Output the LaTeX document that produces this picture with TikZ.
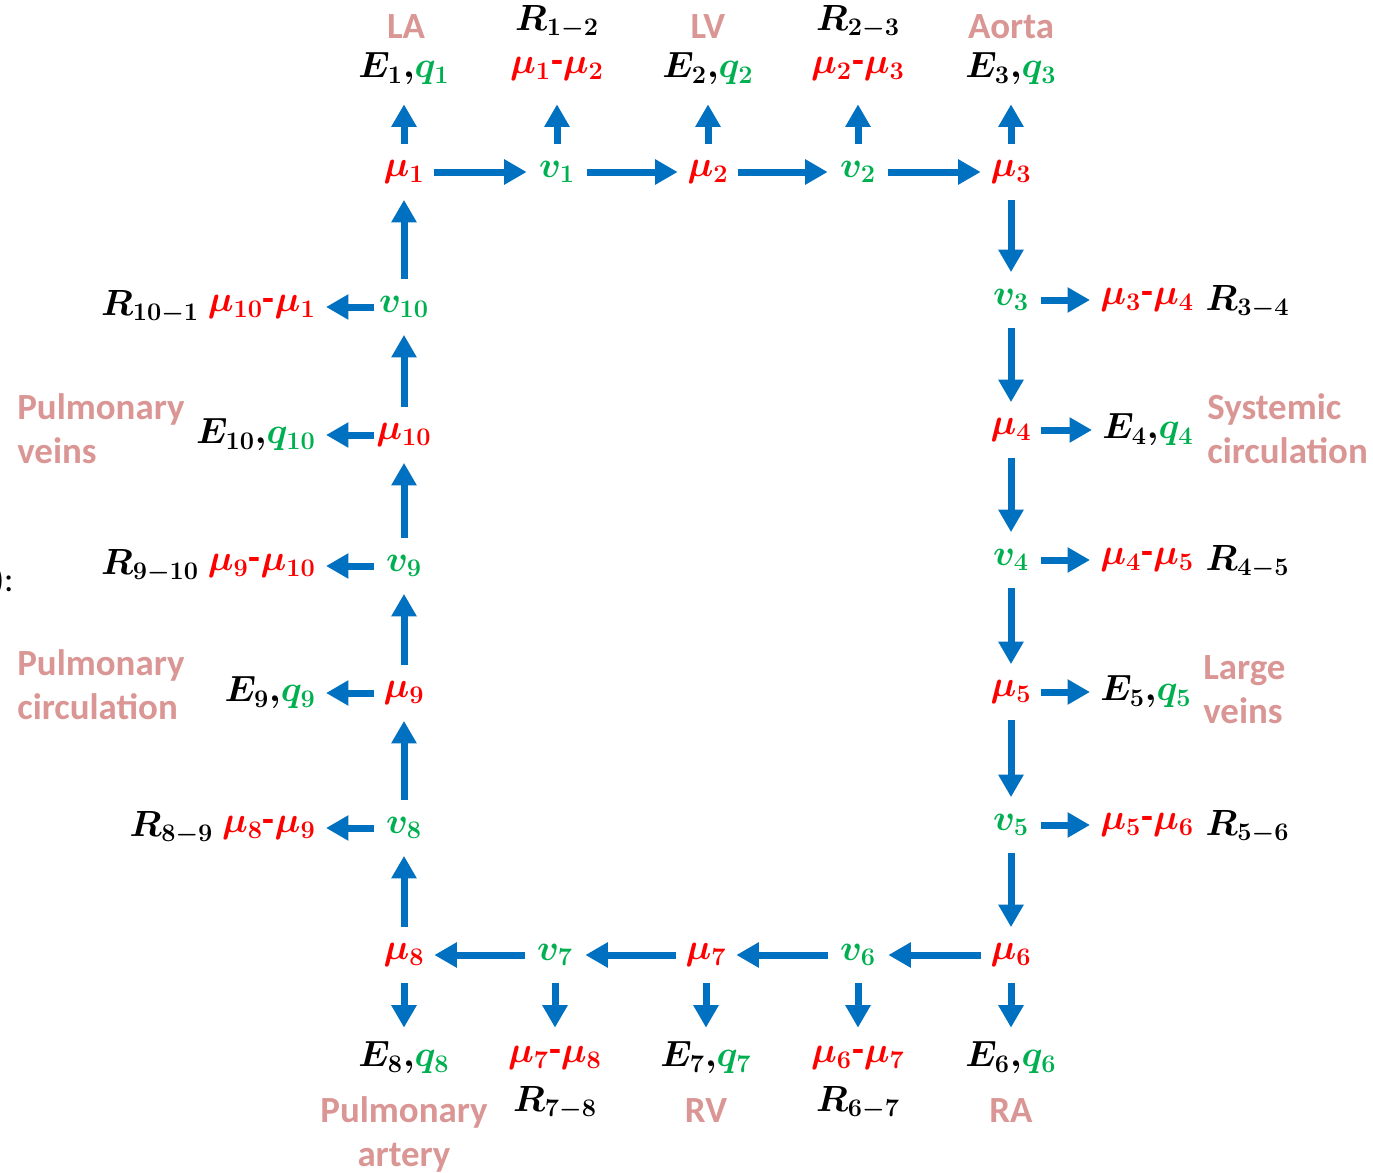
\documentclass[tikz,border=0pt]{standalone}
\usepackage{fontspec}
\setmainfont{Carlito}
\usepackage{amsmath}
\usepackage{bm}
\usetikzlibrary{arrows.meta,calc}
\definecolor{grn}{RGB}{0,176,80}
\definecolor{pnk}{RGB}{217,150,148}
\definecolor{blu}{RGB}{0,112,192}
\newcommand{\MU}[1]{\textcolor{red}{\bm{\mu}_{\bm{#1}}}}
\newcommand{\VV}[1]{\textcolor{grn}{\bm{v}_{\bm{#1}}}}
\newcommand{\EQ}[1]{\bm{E}_{\bm{#1}}{\bm{,}}\textcolor{grn}{\bm{q}_{\bm{#1}}}}
\newcommand{\RR}[2]{\bm{R}_{\bm{#1}\bm{-}\bm{#2}}}
\newcommand{\DF}[2]{\MU{#1}\textcolor{red}{\mbox{\bfseries -}}\MU{#2}}
\begin{document}
\begin{tikzpicture}[x=0.02cm,y=-0.02cm,
  mfont/.style={font=\fontsize{22}{26}\selectfont},
  ring/.style={mfont,minimum width=1.2cm,minimum height=1.1cm,inner sep=0pt},
  toplab/.style={mfont,minimum height=1.4cm,inner sep=0pt},
  botlab/.style={mfont,minimum height=1.2cm,inner sep=0pt},
  rlab/.style={mfont,anchor=west,inner xsep=0.2cm,inner ysep=0pt},
  llab/.style={mfont,anchor=east,inner xsep=0.2cm,inner ysep=0pt},
  rname/.style={mfont,inner sep=0pt},
  pink/.style={text=pnk,font=\fontsize{21}{25}\selectfont\bfseries,inner sep=0pt},
  arr/.style={draw=blu,line width=0.14cm,-{Triangle[width=0.48cm,length=0.45cm]}}]
\useasboundingbox (0,0) rectangle (1373,1173);
% ring
\node[ring] (m1) at (404,172) {$\MU{1}$};
\node[ring] (v1) at (557,172) {$\VV{1}$};
\node[ring] (m2) at (708,172) {$\MU{2}$};
\node[ring] (v2) at (858,172) {$\VV{2}$};
\node[ring] (m3) at (1011,172) {$\MU{3}$};
\node[ring] (v3) at (1011,300) {$\VV{3}$};
\node[ring] (m4) at (1011,430) {$\MU{4}$};
\node[ring] (v4) at (1011,560) {$\VV{4}$};
\node[ring] (m5) at (1011,692) {$\MU{5}$};
\node[ring] (v5) at (1011,825) {$\VV{5}$};
\node[ring] (m6) at (1011,955) {$\MU{6}$};
\node[ring] (v6) at (858,955) {$\VV{6}$};
\node[ring] (m7) at (706,955) {$\MU{7}$};
\node[ring] (v7) at (555,955) {$\VV{7}$};
\node[ring] (m8) at (404,955) {$\MU{8}$};
\node[ring] (v8) at (404,828) {$\VV{8}$};
\node[ring] (m9) at (404,693) {$\MU{9}$};
\node[ring] (v9) at (404,566) {$\VV{9}$};
\node[ring] (m10) at (404,435) {$\MU{10}$};
\node[ring] (v10) at (404,307) {$\VV{10}$};
% top labels
\node[toplab] (e1) at (404,69) {$\EQ{1}$};
\node[toplab] (d12) at (557,69) {$\DF{1}{2}$};
\node[toplab] (e2) at (708,69) {$\EQ{2}$};
\node[toplab] (d23) at (858,69) {$\DF{2}{3}$};
\node[toplab] (e3) at (1011,69) {$\EQ{3}$};
\node[rname] (r12) at (557,22) {$\RR{1}{2}$};
\node[rname] (r23) at (858,22) {$\RR{2}{3}$};
% right labels
\node[rlab] (d34) at (1090,300) {$\DF{3}{4}$};
\node[rlab] (e4) at (1092,430) {$\EQ{4}$};
\node[rlab] (d45) at (1090,560) {$\DF{4}{5}$};
\node[rlab] (e5) at (1090,692) {$\EQ{5}$};
\node[rlab] (d56) at (1090,825) {$\DF{5}{6}$};
\node[rname,anchor=west] (r34) at ($(d34.east)+(1,2)$) {$\RR{3}{4}$};
\node[rname,anchor=west] (r45) at ($(d45.east)+(1,2)$) {$\RR{4}{5}$};
\node[rname,anchor=west] (r56) at ($(d56.east)+(1,2)$) {$\RR{5}{6}$};
% bottom labels
\node[botlab] (e6) at (1011,1058) {$\EQ{6}$};
\node[botlab] (d67) at (858,1058) {$\DF{6}{7}$};
\node[botlab] (e7) at (706,1058) {$\EQ{7}$};
\node[botlab] (d78) at (555,1058) {$\DF{7}{8}$};
\node[botlab] (e8) at (404,1058) {$\EQ{8}$};
\node[rname] (r67) at (858,1103) {$\RR{6}{7}$};
\node[rname] (r78) at (555,1103) {$\RR{7}{8}$};
% left labels
\node[llab] (d89) at (326,828) {$\DF{8}{9}$};
\node[llab] (e9) at (326,693) {$\EQ{9}$};
\node[llab] (d910) at (326,566) {$\DF{9}{10}$};
\node[llab] (e10) at (326,435) {$\EQ{10}$};
\node[llab] (d101) at (326,307) {$\DF{10}{1}$};
\node[rname,anchor=east] (r89) at ($(d89.west)+(2,0)$) {$\RR{8}{9}$};
\node[rname,anchor=east] (r910) at ($(d910.west)+(2,0)$) {$\RR{9}{10}$};
\node[rname,anchor=east] (r101) at ($(d101.west)+(2,0)$) {$\RR{10}{1}$};
% pink labels
\node[pink] (la) at (406,27) {LA};
\node[pink] (lv) at (708,27) {LV};
\node[pink] (ao) at (1011,27) {Aorta};
\node[pink,align=left,anchor=west] (sys) at (1207,429) {Systemic\\circulation};
\node[pink,align=left,anchor=west] (lgv) at (1203,690) {Large\\veins};
\node[pink,align=left,anchor=west] (pv) at (17,429) {Pulmonary\\veins};
\node[pink,align=left,anchor=west] (pc) at (17,685) {Pulmonary\\circulation};
\node[pink,align=center] (pa) at (404,1134) {Pulmonary\\artery};
\node[pink] (rv) at (706,1111) {RV};
\node[pink] (ra) at (1011,1111) {RA};
\node[font=\fontsize{20}{24}\selectfont,anchor=east,inner sep=0pt] (frag) at (14,581) {):};
% ring arrows
\draw[arr] (m1) -- (v1);
\draw[arr] (v1) -- (m2);
\draw[arr] (m2) -- (v2);
\draw[arr] (v2) -- (m3);
\draw[arr] (m3) -- (v3);
\draw[arr] (v3) -- (m4);
\draw[arr] (m4) -- (v4);
\draw[arr] (v4) -- (m5);
\draw[arr] (m5) -- (v5);
\draw[arr] (v5) -- (m6);
\draw[arr] (m6) -- (v6);
\draw[arr] (v6) -- (m7);
\draw[arr] (m7) -- (v7);
\draw[arr] (v7) -- (m8);
\draw[arr] (m8) -- (v8);
\draw[arr] (v8) -- (m9);
\draw[arr] (m9) -- (v9);
\draw[arr] (v9) -- (m10);
\draw[arr] (m10) -- (v10);
\draw[arr] (v10) -- (m1);
% label arrows
\draw[arr] (m1) -- (e1);
\draw[arr] (v1) -- (d12);
\draw[arr] (m2) -- (e2);
\draw[arr] (v2) -- (d23);
\draw[arr] (m3) -- (e3);
\draw[arr] (v3) -- (d34);
\draw[arr] (m4) -- (e4);
\draw[arr] (v4) -- (d45);
\draw[arr] (m5) -- (e5);
\draw[arr] (v5) -- (d56);
\draw[arr] (m6) -- (e6);
\draw[arr] (v6) -- (d67);
\draw[arr] (m7) -- (e7);
\draw[arr] (v7) -- (d78);
\draw[arr] (m8) -- (e8);
\draw[arr] (v8) -- (d89);
\draw[arr] (m9) -- (e9);
\draw[arr] (v9) -- (d910);
\draw[arr] (m10) -- (e10);
\draw[arr] (v10) -- (d101);
\end{tikzpicture}
\end{document}
